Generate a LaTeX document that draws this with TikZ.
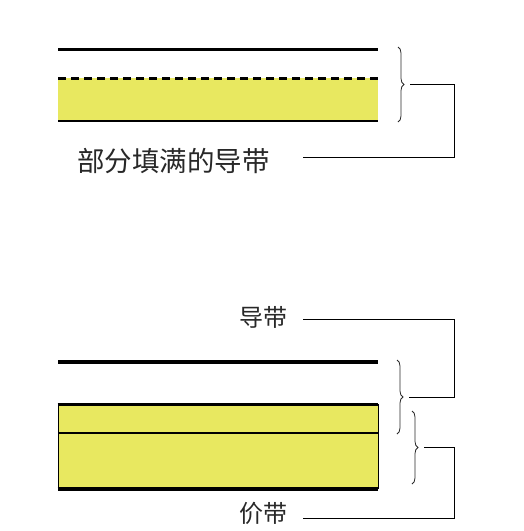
\documentclass[tikz,border=0pt]{standalone}
\usepackage{fontspec}
\newfontfamily\cjk{Noto Sans CJK SC}
\usetikzlibrary{decorations.pathreplacing}
\definecolor{bandyellow}{RGB}{232,232,96}
\definecolor{inkgray}{RGB}{40,40,40}
\tikzset{
  px/.style={x=1pt,y=-1pt},
  level/.style={line width=3.6pt},
  thinlevel/.style={line width=1.8pt},
  bandbrace/.style={decorate,decoration={brace,amplitude=6pt,raise=0pt},line width=0.8pt,draw=inkgray},
  leader/.style={line width=0.8pt,draw=black},
  lab/.style={font=\cjk,text=inkgray,inner sep=0pt}
}
\begin{document}
\begin{tikzpicture}[px]
\useasboundingbox (0,0) rectangle (523,531);
% ---- top: partially filled conduction band
\fill[bandyellow] (58,78) rectangle (378,121);
\draw[level] (58,49.5) -- (378,49.5);
\draw[line width=3pt,dash pattern=on 8pt off 5pt] (58,78) -- (378,78);
\draw[line width=2.5pt] (58,121) -- (378,121);
\draw[bandbrace] (398,47) -- (398,122);
\coordinate (tip1) at (410,84.5);
\coordinate (k1) at (454,157);
\coordinate (e1) at (303,157);
\node[lab,font=\cjk\fontsize{27.5}{27.5}\selectfont,anchor=west] (lab1) at (77,161) {部分填满的导带};
\draw[leader] (tip1) -| (k1) -- (e1);
% ---- bottom: conduction band + valence band
\draw[level] (58,362) -- (378,362);
\fill[bandyellow] (58,404) rectangle (378,489);
\draw[line width=0.8pt] (58,404) -- (58,489);
\draw[line width=0.8pt] (378,404) -- (378,489);
\draw[line width=3pt] (57.6,404) -- (378.4,404);
\draw[thinlevel] (58,433) -- (378,433);
\draw[line width=3.3pt] (57.6,489) -- (378.4,489);
\draw[bandbrace] (397,360) -- (397,434);
\coordinate (tip2) at (409,397);
\draw[bandbrace] (412,411) -- (412,484);
\coordinate (tip3) at (424,447.5);
\node[lab,font=\cjk\fontsize{24}{24}\selectfont,anchor=east] (lab2) at (288,317) {导带};
\node[lab,font=\cjk\fontsize{24}{24}\selectfont,anchor=east] (lab3) at (288,513) {价带};
\coordinate (e2) at (303,319);
\coordinate (k2) at (454,319);
\coordinate (e3) at (303,518);
\coordinate (k3) at (454,518);
\draw[leader] (e2) -- (k2) |- (tip2);
\draw[leader] (tip3) -| (k3) -- (e3);
\end{tikzpicture}
\end{document}
